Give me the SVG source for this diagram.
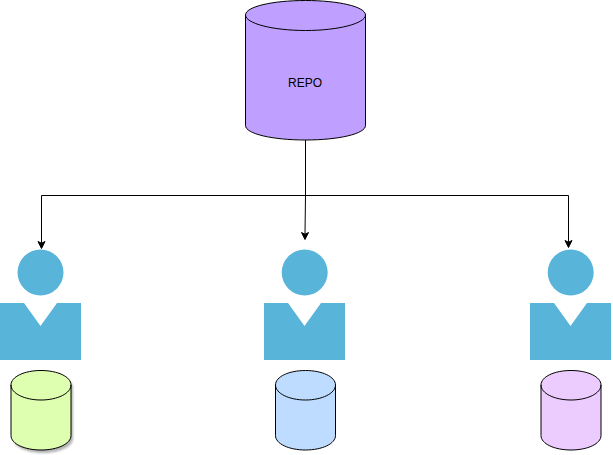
<svg xmlns="http://www.w3.org/2000/svg" width="613" height="455" viewBox="0 0 613 455">
<style>
.cyl{stroke:#000;stroke-width:1}
.cyl path.t{fill:none}
.p{fill:#59b4d9}
.c{fill:none;stroke:#000;stroke-width:1}
.a{fill:#000;stroke:#000;stroke-width:1}
text{font-family:"Liberation Sans",Arial,sans-serif;font-size:12px;fill:#000}
</style>
<defs>
<filter id="s" x="-20%" y="-20%" width="150%" height="150%"><feGaussianBlur stdDeviation="1"/></filter>
<path id="person" d="M0 303H24L40.500 326L57 303H81V360H0Z"/>
</defs>
<rect width="613" height="455" fill="#fff"/>
<g id="connectors">
<path class="c" d="M305.500 140V195.500H41.500V243"/>
<path class="a" d="M41.500 248.500L38 241.500L41.500 243.250L45 241.500Z"/>
<path class="c" d="M305.500 195.500L305 234"/>
<path class="a" d="M305 239.500L301.500 232.500L305 234.250L308.500 232.500Z"/>
<path class="c" d="M305.500 195.500H568.500V242"/>
<path class="a" d="M568.500 247.500L565 240.500L568.500 242.250L572 240.500Z"/>
</g>
<g id="repo" class="cyl">
<path fill="#bf9fff" d="M245.500 15C245.500 6.700 272.400 0.500 305.500 0.500C338.600 0.500 365.500 6.700 365.500 15V125.500C365.500 133.800 338.600 140 305.500 140C272.400 140 245.500 133.800 245.500 125.500Z"/>
<path class="t" d="M245.500 15C245.500 23.300 272.400 30.500 305.500 30.500C338.600 30.500 365.500 23.300 365.500 15"/>
<text x="305" y="87" text-anchor="middle" stroke="none">REPO</text>
</g>
<g id="person1"><circle class="p" cx="40.500" cy="272.500" r="23"/><use href="#person" class="p"/></g>
<g id="person2"><circle class="p" cx="304.700" cy="272.500" r="23"/><use href="#person" class="p" x="264"/></g>
<g id="person3"><circle class="p" cx="570.700" cy="272.500" r="23"/><use href="#person" class="p" x="530"/></g>
<g id="db1" class="cyl">
<path fill="#808080" opacity="0.6" stroke="none" filter="url(#s)" transform="translate(2 3)" d="M11 385C11 376.700 24.400 370.500 41 370.500C57.600 370.500 71 376.700 71 385V435.500C71 443.800 57.600 450 41 450C24.400 450 11 443.800 11 435.500Z"/>
<path fill="#dfffb0" d="M11 385C11 376.700 24.400 370.500 41 370.500C57.600 370.500 71 376.700 71 385V435.500C71 443.800 57.600 450 41 450C24.400 450 11 443.800 11 435.500Z"/>
<path class="t" d="M11 385C11 393.300 24.400 400 41 400C57.600 400 71 393.300 71 385"/>
</g>
<g id="db2" class="cyl">
<path fill="#bddcff" d="M275.500 385C275.500 376.700 288.900 370.500 305.500 370.500C322.100 370.500 335.500 376.700 335.500 385V435.500C335.500 443.800 322.100 450 305.500 450C288.900 450 275.500 443.800 275.500 435.500Z"/>
<path class="t" d="M275.500 385C275.500 393.300 288.900 400 305.500 400C322.100 400 335.500 393.300 335.500 385"/>
</g>
<g id="db3" class="cyl">
<path fill="#eccbff" d="M541 385C541 376.700 554.400 370.500 571 370.500C587.600 370.500 601 376.700 601 385V435.500C601 443.800 587.600 450 571 450C554.400 450 541 443.800 541 435.500Z"/>
<path class="t" d="M541 385C541 393.300 554.400 400 571 400C587.600 400 601 393.300 601 385"/>
</g>
</svg>
